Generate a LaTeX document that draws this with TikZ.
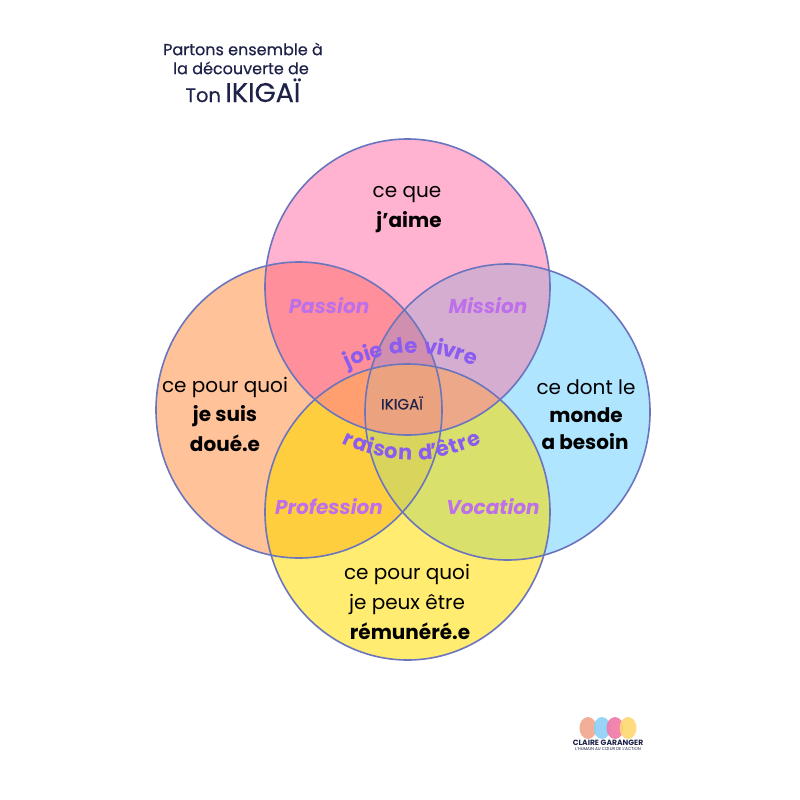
\documentclass[tikz,border=0pt]{standalone}
\usepackage{fontspec}
\setmainfont{Poppins}
\newfontfamily\midfont[FakeBold=0.4]{Poppins}
\definecolor{inkblue}{HTML}{1E2248}
\definecolor{ringblue}{HTML}{6A75BE}
\definecolor{lilac}{HTML}{BE6FEA}
\definecolor{arcviolet}{HTML}{8A5CF0}
\definecolor{cpink}{HTML}{FFB3D1}
\definecolor{corange}{HTML}{FFC299}
\definecolor{cblue}{HTML}{B0E5FF}
\definecolor{cyellow}{HTML}{FFEC70}
\definecolor{cpassion}{HTML}{FF8F9B}
\definecolor{cmission}{HTML}{D5ADD0}
\definecolor{cprofession}{HTML}{FFCE3F}
\definecolor{cvocation}{HTML}{D9E06C}
\definecolor{cjoie}{HTML}{D08FAE}
\definecolor{craison}{HTML}{D8D45C}
\definecolor{cwest}{HTML}{FF9F70}
\definecolor{ceast}{HTML}{EDA88A}
\definecolor{ccentre}{HTML}{EAA27F}
\definecolor{logoa}{HTML}{F2A68C}
\definecolor{logob}{HTML}{8DD0F5}
\definecolor{logoc}{HTML}{F178A8}
\definecolor{logod}{HTML}{FFD873}
\def\ctop{(407.5,287) ellipse [x radius=142.5,y radius=148]}
\def\cleft{(299,410) ellipse [x radius=143,y radius=148]}
\def\cright{(507.5,412) ellipse [x radius=142.5,y radius=148]}
\def\cbottom{(407.5,512) ellipse [x radius=142.5,y radius=148]}
\def\cfull{(0,0) rectangle (800,800)}

\begin{document}
\begin{tikzpicture}
  [x=1pt,y=-1pt,every node/.style={inner sep=0pt,text=black,align=center},
   word/.style={font=\fontsize{20}{24}\selectfont},
   strong/.style={font=\fontsize{20}{24}\selectfont\bfseries},
   theme/.style={font=\fontsize{20}{24}\selectfont\bfseries\itshape,text=lilac},
   arcword/.style={font=\fontsize{21}{25}\selectfont\bfseries,text=arcviolet,anchor=base},
   head/.style={font=\fontsize{16}{19}\selectfont\midfont,text=inkblue}]
  \useasboundingbox \cfull;
  \fill[white] \cfull;

  \foreach \col/\ring in {cpink/\ctop,corange/\cleft,cblue/\cright,cyellow/\cbottom}
    \fill[\col] \ring;
  \foreach \col/\one/\two in {cpassion/\ctop/\cleft,cmission/\ctop/\cright,
      cprofession/\cleft/\cbottom,cvocation/\cright/\cbottom} {
    \begin{scope}
      \clip \one;
      \fill[\col] \two;
    \end{scope}
  }
  \foreach \col/\one/\two/\three in {cjoie/\ctop/\cleft/\cright,craison/\cleft/\cright/\cbottom,
      cwest/\ctop/\cleft/\cbottom,ceast/\ctop/\cright/\cbottom} {
    \begin{scope}
      \clip \one;
      \clip \two;
      \fill[\col] \three;
    \end{scope}
  }
  \begin{scope}
    \clip \ctop;
    \clip \cleft;
    \clip \cright;
    \fill[ccentre] \cbottom;
  \end{scope}
  \foreach \ring in {\ctop,\cleft,\cright,\cbottom}
    \draw[ringblue,line width=1.6pt] \ring;

  \node[head] (line1) at (243,49) {Partons ensemble à};
  \node[head] (line2) at (241,68) {la découverte de};
  \node[head,anchor=base] (line3) at (243,102) {{\fontsize{19.5}{22}\selectfont Ton} {\fontsize{27}{30}\selectfont IKIGAÏ}};

  \node[word] (topa) at (407,195) {ce que};
  \node[strong] (topb) at (409,222) {j’aime};
  \node[word] (lefta) at (225,387) {ce pour quoi};
  \node[strong] (leftb) at (225,416) {je suis};
  \node[strong] (leftc) at (225,443) {doué.e};
  \node[word] (righta) at (586,387) {ce dont le};
  \node[strong] (rightb) at (586,415) {monde};
  \node[strong] (rightc) at (585,442) {a besoin};
  \node[word] (bota) at (407,574) {ce pour quoi};
  \node[word] (botb) at (407,604) {je peux être};
  \node[strong] (botc) at (410,631) {rémunéré.e};

  \node[theme] (passion) at (329,306) {Passion};
  \node[theme] (mission) at (488,306) {Mission};
  \node[theme] (profession) at (329,507) {Profession};
  \node[theme] (vocation) at (493,507) {Vocation};
  \node[font=\fontsize{15}{17}\selectfont\midfont,text=inkblue] (ikigai) at (402,403) {IKIGAÏ};

  % curved words, letter by letter
  \foreach \ch/\dx in {j/-60,o/-50,i/-41,e/-32,d/-13,e/1,v/20,i/29,v/38,r/48,e/59} {
    \pgfmathsetmacro\yy{353+0.00355*\dx*\dx-0.03*\dx}
    \pgfmathsetmacro\tilt{-atan(2*0.00355*\dx-0.03)}
    \node[arcword,rotate=\tilt] (joie\dx) at (410+\dx,\yy) {\ch};
  }
  \foreach \ch/\dx in {r/-66,a/-54,i/-44,s/-34,o/-22,n/-7,d/14,’/23,ê/32,t/44,r/53,e/64} {
    \pgfmathsetmacro\yy{460-0.00347*\dx*\dx}
    \pgfmathsetmacro\tilt{atan(2*0.00347*\dx)}
    \node[arcword,rotate=\tilt] (raison\dx) at (412+\dx,\yy) {\ch};
  }

  % logo
  \foreach \col/\xx in {logoa/588,logob/602,logoc/615,logod/628}
    \fill[\col,opacity=.9] (\xx,728) ellipse [x radius=8.5,y radius=11];
  \node[font=\fontsize{7.6}{9}\selectfont\bfseries,text=inkblue] (logoname) at (608,743) {CLAIRE GARANGER};
  \node[font=\fontsize{4.2}{5}\selectfont,text=inkblue] (logotag) at (608,749.5) {L’HUMAIN AU CŒUR DE L’ACTION};
\end{tikzpicture}
\end{document}
